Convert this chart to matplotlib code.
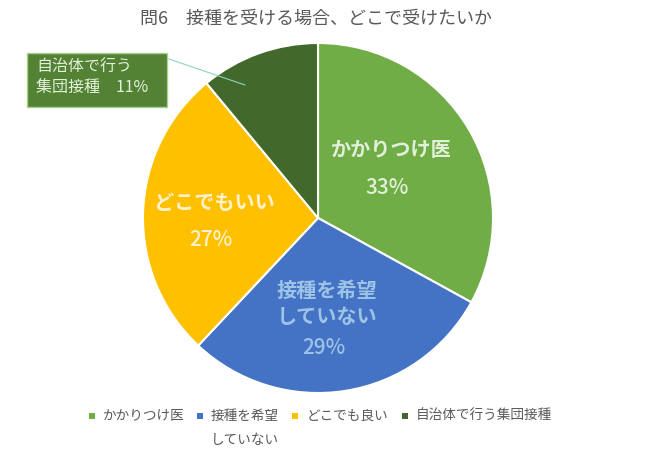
import matplotlib
matplotlib.use("Agg")
import matplotlib.pyplot as plt
from matplotlib.patches import Rectangle

plt.rcParams["font.family"] = ["Noto Sans CJK JP", "DejaVu Sans"]

title = "問6　接種を受ける場合、どこで受けたいか"
categories = ["かかりつけ医", "接種を希望\nしていない", "どこでも良い", "自治体で行う集団接種"]
slice_labels = ["かかりつけ医", "接種を希望\nしていない", "どこでもいい", "自治体で行う\n集団接種"]
values = [33, 29, 27, 11]
colors = ["#70AD47", "#4472C4", "#FFC000", "#43682B"]
label_colors = ["#E2F0D9", "#9DC3E6", "#FFF2CC", "#E2F0D9"]

W, H = 650, 457
fig = plt.figure(figsize=(W / 100, H / 100), dpi=100)
# pie centre (318, 218) px, radius 175 px
ax = fig.add_axes([(318 - 175) / W, (H - 393) / H, 350 / W, 350 / H])
ax.pie(values, colors=colors, startangle=90, counterclock=False,
       wedgeprops=dict(edgecolor="white", linewidth=1.5))
ax.set_xlim(-1, 1)
ax.set_ylim(-1, 1)
ax.set_aspect("equal")

# in-slice labels (name, percent)
pos_name = [(0.42, 0.39), (0.05, -0.49), (-0.59, 0.086)]
pos_pct = [(0.395, 0.17), (0.035, -0.745), (-0.61, -0.126)]
for i in range(3):
    ax.text(*pos_name[i], slice_labels[i], ha="center", va="center",
            fontsize=14.5, color=label_colors[i], linespacing=1.3,
            fontweight="bold")
    ax.text(*pos_pct[i], f"{values[i]}%", ha="center", va="center",
            fontsize=15, color=label_colors[i], fontweight="medium")

# callout for the small slice
fig.add_artist(Rectangle((27 / W, 1 - 107 / H), 140 / W, 54 / H,
                         transform=fig.transFigure, facecolor="#548235",
                         edgecolor="#A9D18E", linewidth=1))
fig.text(36 / W, 1 - 67 / H, "自治体で行う", ha="left", va="center",
         fontsize=11.5, color=label_colors[3])
fig.text(36 / W, 1 - 87 / H, f"集団接種　{values[3]}%", ha="left", va="center",
         fontsize=11.5, color=label_colors[3])
ax.annotate("", xy=(-0.417, 0.76), xycoords="data",
            xytext=(169 / W, 1 - 59 / H), textcoords="figure fraction",
            arrowprops=dict(arrowstyle="-", color="#8FD5C0", lw=0.8,
                            shrinkA=0, shrinkB=0))

fig.text(316 / W, 1 - 19 / H, title, ha="center", va="center",
         fontsize=13, color="#595959")

# legend
marker_x = [92, 200, 295, 405]
text_x = [103, 211, 307, 416]
for mx, tx, c, lab in zip(marker_x, text_x, colors, categories):
    fig.add_artist(Rectangle(((mx - 3) / W, 1 - 418.5 / H), 6 / W, 6 / H,
                             transform=fig.transFigure, facecolor=c,
                             edgecolor="none"))
    for k, line in enumerate(lab.split("\n")):
        fig.text(tx / W, 1 - (416 + 24 * k) / H, line, ha="left", va="center",
                 fontsize=9.8, color="#595959")

fig.savefig("out.png", dpi=100)
